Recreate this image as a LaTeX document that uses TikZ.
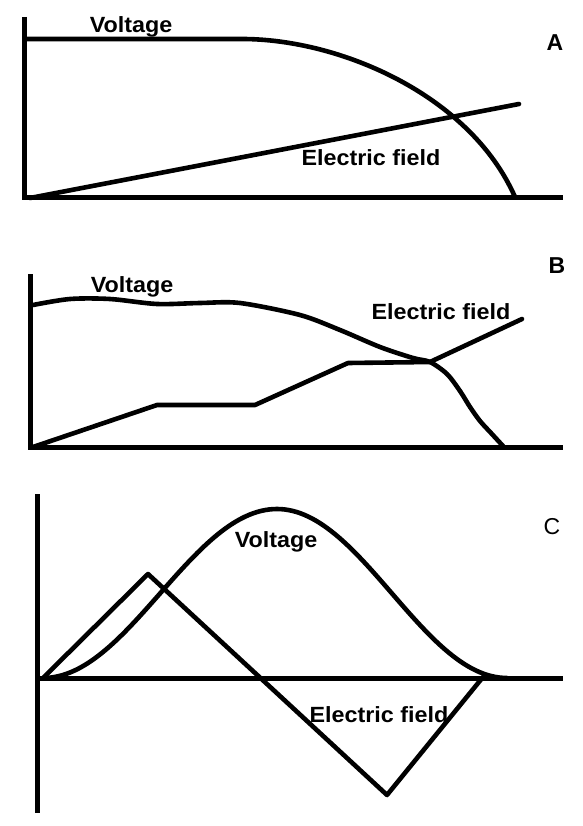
\documentclass[tikz,border=0pt]{standalone}
\usepackage{fontspec}
\setmainfont{Liberation Sans}
\begin{document}
\begin{tikzpicture}[x=1pt,y=-1pt,
  axis/.style={line width=5pt},
  curve/.style={line width=4.6pt,line join=round,line cap=round},
  lbl/.style={font=\fontsize{22}{22}\selectfont\bfseries,inner sep=0pt,xscale=1.06},
  tag/.style={font=\fontsize{23}{23}\selectfont\bfseries,inner sep=0pt}]
\useasboundingbox[fill=white] (0,0) rectangle (582,826);
% ---------------- Panel A ----------------
\draw[axis] (24,17) -- (24,200);
\draw[axis] (22,198) -- (563,198);
\draw[curve] (26,39) -- (242,39) .. controls (340,39) and (470,95) .. (515,197);
\draw[curve] (30,198) -- (519,104);
\node[lbl] (vA) at (131,27) {Voltage};
\node[lbl] (eA) at (371,158) {Electric field};
\node[tag] (tA) at (555,43) {A};
% ---------------- Panel B ----------------
\draw[axis] (30,274) -- (30,449);
\draw[axis] (28,447) -- (563,447);
\draw[curve] plot[smooth,tension=0.5] coordinates {(33,305) (70,299) (110,299) (157,304) (200,303) (240,303) (300,315) (340,330) (380,347) (413,358) (430,362) (447,374) (460,391) (470,407) (480,421) (491,433) (503,446)};
\draw[curve] (33,447) -- (157,405) -- (255,405) -- (348,363) -- (430,362) -- (522,319);
\node[lbl] (vB) at (132,287) {Voltage};
\node[lbl] (eB) at (441,312) {Electric field};
\node[tag] (tB) at (557,266) {B};
% ---------------- Panel C ----------------
\draw[axis] (37,494) -- (37,813);
\draw[axis] (35,678) -- (563,678);
\draw[curve] plot[domain=0:1,samples=60] ({43+234*\x},{678-169*(1-cos(180*\x))/2})
  -- plot[domain=0:1,samples=60] ({277+230*\x},{678-169*(1+cos(180*\x))/2});
\draw[curve] (43,678) -- (148,574) -- (387,795) -- (483,677);
\node[lbl] (vC) at (276,542) {Voltage};
\node[lbl] (eC) at (379,715) {Electric field};
\node[tag,font=\fontsize{23}{23}\selectfont] (tC) at (552,527) {C};
\end{tikzpicture}
\end{document}
